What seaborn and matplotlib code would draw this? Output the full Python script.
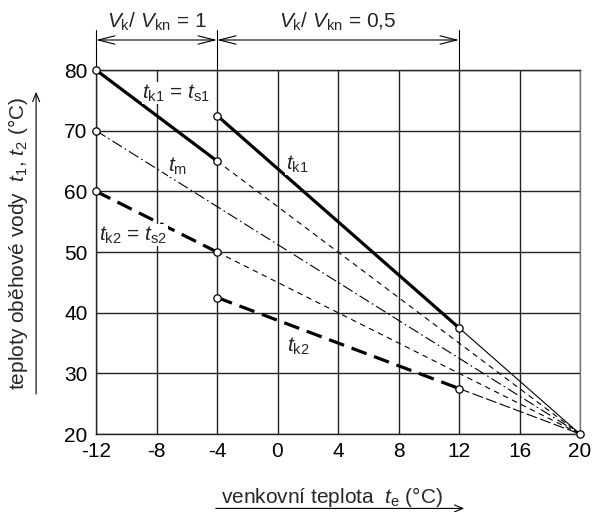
import matplotlib
matplotlib.use("Agg")
import matplotlib.pyplot as plt
import seaborn as sns
import pandas as pd

# ---- data ----
te_left = [-12, -4]
tk1_left = [80, 65]
tk2_left = [60, 50]
te_right = [-4, 12]
tk1_right = [72.5, 37.5]
tk2_right = [42.5, 27.5]
te_m = [-12, 20]
tm_vals = [70, 20]
te_end = 20
t_end = 20
xticks = [-12, -8, -4, 0, 4, 8, 12, 16, 20]
yticks = [20, 30, 40, 50, 60, 70, 80]

sns.set_theme(style="white")
FONT = ['Liberation Sans', 'DejaVu Sans']
plt.rcParams['font.family'] = FONT
plt.rcParams['mathtext.fontset'] = 'custom'
plt.rcParams['mathtext.rm'] = 'Liberation Sans'
plt.rcParams['mathtext.it'] = 'Liberation Sans:italic'

fig = plt.figure(figsize=(5.92, 5.12), dpi=100)
ax = fig.add_axes([96/592, 1-434/512, 484/592, 364/512])

def seg(xs, ys, **kw):
    df = pd.DataFrame({"x": xs, "y": ys})
    sns.lineplot(data=df, x="x", y="y", ax=ax, color="black", sort=False, **kw)

# thin extensions to (20,20)
seg([te_left[1], te_end], [tk1_left[1], t_end], lw=0.8, dashes=(5, 4))
seg([te_left[1], te_end], [tk2_left[1], t_end], lw=0.8, dashes=(5, 4))
seg([te_right[1], te_end], [tk1_right[1], t_end], lw=0.8)
seg([te_right[1], te_end], [tk2_right[1], t_end], lw=0.8, dashes=(10, 3))
# t_m
seg(te_m, tm_vals, lw=0.8, dashes=(10, 3, 1.5, 3))
# thick
seg(te_left, tk1_left, lw=2.3)
seg(te_right, tk1_right, lw=2.3)
seg(te_left, tk2_left, lw=2.3, dashes=(5, 2.5))
seg(te_right, tk2_right, lw=2.3, dashes=(5, 2.5))

# markers
mx = [te_left[0], te_left[1], te_left[0], te_left[1],
      te_right[0], te_right[1], te_right[0], te_right[1], te_m[0], te_end]
my = [tk1_left[0], tk1_left[1], tk2_left[0], tk2_left[1],
      tk1_right[0], tk1_right[1], tk2_right[0], tk2_right[1], tm_vals[0], t_end]
sns.scatterplot(x=mx, y=my, ax=ax, s=28, color="white", edgecolor="black",
                linewidth=0.9, zorder=5, clip_on=False)

ax.set_xlim(-12, 20)
ax.set_ylim(20, 80)
ax.set_xticks(xticks)
ax.set_yticks(yticks)
ax.set_xticklabels([str(v) for v in xticks], fontsize=15)
ax.set_yticklabels([str(v) for v in yticks], fontsize=15)
ax.tick_params(length=0, pad=6, colors="black")
ax.grid(True, color="#222222", lw=1.0)
for s in ax.spines.values():
    s.set_color("#222222")
    s.set_linewidth(1.0)
ax.spines['right'].set_color("#777777")
ax.set_xlabel("")
ax.set_ylabel("")

# curve labels
fs = 15
bb = dict(facecolor="white", edgecolor="none", pad=0.5)
ax.text(-6.7, 76.2, r"$t_{\mathrm{k1}}$ = $t_{\mathrm{s1}}$", fontsize=fs, ha="center", va="center", bbox=bb, zorder=4)
ax.text(-6.6, 64.2, r"$t_{\mathrm{m}}$", fontsize=fs, ha="center", va="center", bbox=bb, zorder=4)
ax.text(1.3, 64.5, r"$t_{\mathrm{k1}}$", fontsize=fs, ha="center", va="center", bbox=bb, zorder=4)
ax.text(-9.55, 52.8, r"$t_{\mathrm{k2}}$ = $t_{\mathrm{s2}}$", fontsize=fs, ha="center", va="center", bbox=bb, zorder=4)
ax.text(1.35, 34.4, r"$t_{\mathrm{k2}}$", fontsize=fs, ha="center", va="center", bbox=bb, zorder=4)

# dimension annotations
tr = ax.get_xaxis_transform()
ydim = 1 + 30/364
for xv in [-12, -4, 12]:
    ax.plot([xv, xv], [1.0, 1 + 40/364], transform=tr, color="black", lw=0.8, clip_on=False)
for (a, b, lab) in [(-12, -4, r"$V_{\mathrm{k}}$/ $V_{\mathrm{kn}}$ = 1"),
                    (-4, 12, r"$V_{\mathrm{k}}$/ $V_{\mathrm{kn}}$ = 0,5")]:
    ax.annotate("", xy=(a, ydim), xytext=(b, ydim), xycoords=tr, textcoords=tr,
                arrowprops=dict(arrowstyle="<->,head_length=1.0,head_width=0.25",
                                color="black", lw=0.8, shrinkA=0, shrinkB=0))
    ax.text((a + b) / 2, 1 + 48/364, lab, transform=tr, fontsize=fs, ha="center", va="center")

# axis labels with arrows
fig.text(0.030, 0.525, r"teploty oběhové vody  $t_1$, $t_2$ (°C)", rotation=90,
         fontsize=15, ha="center", va="center")
fig.patches.append(matplotlib.patches.FancyArrowPatch(
    (0.061, 0.225), (0.061, 0.826), transform=fig.transFigure,
    arrowstyle="->,head_length=6,head_width=2.5", color="black", lw=0.8))
fig.text(0.56, 0.030, r"venkovní teplota  $t_{\mathrm{e}}$ (°C)", fontsize=15,
         ha="center", va="center")
fig.patches.append(matplotlib.patches.FancyArrowPatch(
    (213/592, 0.007), (467/592, 0.007), transform=fig.transFigure,
    arrowstyle="->,head_length=6,head_width=2.5", color="black", lw=0.8))

fig.savefig("out.png", dpi=100)
